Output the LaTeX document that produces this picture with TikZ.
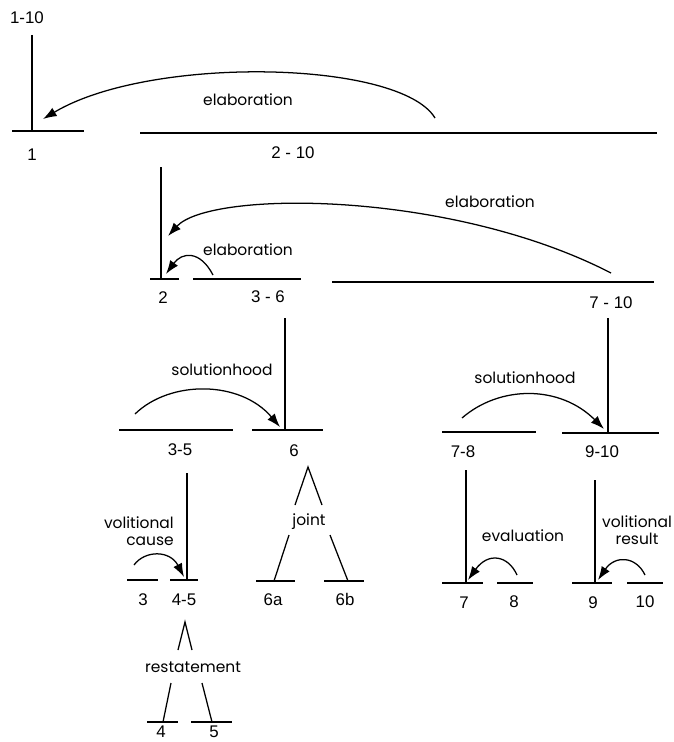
\documentclass[tikz,border=0pt]{standalone}
\usepackage{fontspec}
\setmainfont{Poppins}
\newfontfamily\numfont{Liberation Sans}
\usetikzlibrary{arrows.meta}

\begin{document}
\begin{tikzpicture}[x=0.025cm,y=-0.025cm,
  span/.style={line width=1.3pt},
  stem/.style={line width=.9pt},
  rel/.style={line width=.9pt,-{Latex[length=3.4mm,width=2.4mm]}},
  num/.style={font=\numfont\fontsize{12}{14}\selectfont,inner sep=0pt},
  lab/.style={font=\fontsize{11}{12}\selectfont,inner sep=0pt,align=center}]
  \useasboundingbox (0,0) rectangle (674,742);

  \node[num] (l1to10) at (27,18) {1-10};
  \foreach \nm/\xa/\xb/\y/\lx/\ly/\txt in {
      1/12/84/131/32/155/1, 2to10/140/657/133/293/153/2 - 10,
      2/150/179/279/163/298/2, 3to6/193/301/279/268/297/3 - 6,
      7to10/332/654/282/611/303/7 - 10,
      3to5/119/233/430/180/450/3-5, 6/252/323/430/294/451/6,
      7to8/442/536/432/463/452/7-8, 9to10/562/659/433/602/452/9-10,
      3/127/158/580/143/600/3, 4to5/170/198/580/184/600/4-5,
      6a/256/295/581/273/600/6a, 6b/324/364/581/345/599/6b,
      7/442/483/583/464/603/7, 8/497/533/583/514/602/8,
      9/572/612/583/593/603/9, 10/627/663/583/645/602/10,
      4/147/178/722/161/732/4, 5/191/232/722/214/732/5}{
    \draw[span] (\xa,\y) -- (\xb,\y);
    \node[num] (l\nm) at (\lx,\ly) {\txt};
  }

  \draw[stem] (32,35) -- (32,131);
  \draw[stem] (161,167) -- (161,279);
  \draw[stem] (285,318) -- (285,430);
  \draw[stem] (608,318) -- (608,432);
  \draw[stem] (187,473) -- (187,580);
  \draw[stem] (466,470) -- (466,583);
  \draw[stem] (595,480) -- (595,583);

  \node[lab] (elab1) at (248,100) {elaboration};
  \node[lab] (elab2) at (490,202) {elaboration};
  \node[lab] (elab3) at (248,250) {elaboration};
  \node[lab] (sol1) at (222,370) {solutionhood};
  \node[lab] (sol2) at (525,378) {solutionhood};
  \node[lab,align=right,anchor=east] (volc) at (174,531) {volitional\\cause};
  \node[lab] (eval) at (523,536) {evaluation};
  \node[lab] (volr) at (637,530) {volitional\\result};
  \node[lab] (joint) at (309,522) {joint};
  \node[lab] (restat) at (193,667) {restatement};

  \coordinate (e1a) at (435,118);  \coordinate (e1b) at (43,119);
  \coordinate (e2a) at (611,273);  \coordinate (e2b) at (168,236);
  \coordinate (e3a) at (213,275);  \coordinate (e3b) at (166,274);
  \coordinate (s1a) at (135,414);  \coordinate (s1b) at (280,427);
  \coordinate (s2a) at (462,418);  \coordinate (s2b) at (604,429);
  \coordinate (vca) at (134,565);  \coordinate (vcb) at (184,577);
  \coordinate (eva) at (517,575);  \coordinate (evb) at (468,580);
  \coordinate (vra) at (645,575);  \coordinate (vrb) at (598,580);
  \draw[rel] (e1a) .. controls (400,60) and (150,55) .. (e1b);
  \draw[rel] (e2a) .. controls (450,190) and (210,190) .. (e2b);
  \draw[rel] (e3a) .. controls (200,250) and (182,252) .. (e3b);
  \draw[rel] (s1a) .. controls (170,380) and (240,380) .. (s1b);
  \draw[rel] (s2a) .. controls (500,385) and (560,385) .. (s2b);
  \draw[rel] (vca) .. controls (145,550) and (170,550) .. (vcb);
  \draw[rel] (eva) .. controls (508,555) and (488,552) .. (evb);
  \draw[rel] (vra) .. controls (636,556) and (615,555) .. (vrb);

  \coordinate (jtop) at (308,467);
  \draw[stem] (295,505) -- (jtop) -- (322,505);
  \draw[stem] (289,535) -- (274,581);
  \draw[stem] (330,535) -- (348,581);
  \coordinate (rtop) at (185,622);
  \draw[stem] (178,650) -- (rtop) -- (192,650);
  \draw[stem] (171,683) -- (163,722);
  \draw[stem] (202,683) -- (212,722);
\end{tikzpicture}
\end{document}
